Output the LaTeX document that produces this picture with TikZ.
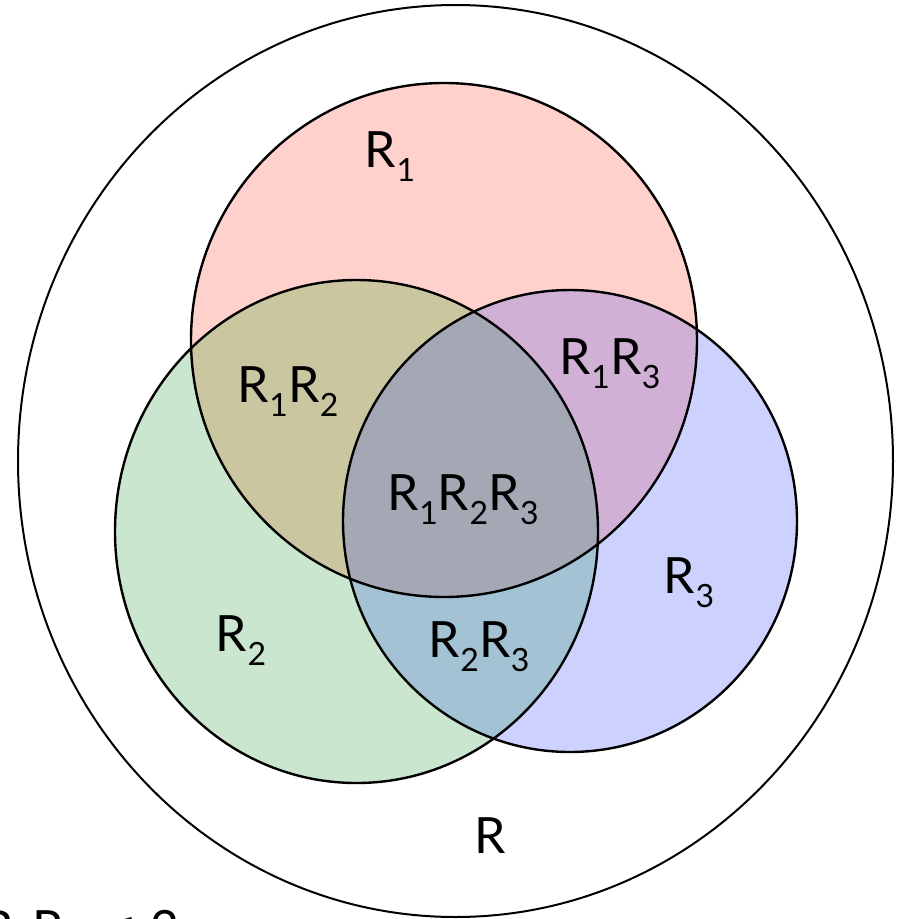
\documentclass[tikz,border=0pt]{standalone}
\usepackage{fontspec}
\setmainfont{Lato}
\newfontfamily\symfont{DejaVu Sans}
\newcommand\Rsb[1]{R\kern0.01em\raisebox{-0.28em}{\fontsize{32}{32}\selectfont #1}}
\definecolor{cA}{RGB}{255,209,204}
\definecolor{cB}{RGB}{203,230,206}
\definecolor{cC}{RGB}{204,210,253}
\definecolor{cAB}{RGB}{202,198,160}
\definecolor{cAC}{RGB}{208,176,213}
\definecolor{cBC}{RGB}{163,194,212}
\definecolor{cABC}{RGB}{164,168,180}
\tikzset{
  lbl/.style={font=\fontsize{50}{50}\selectfont, inner sep=0pt, text=black},
  setline/.style={draw=black, line width=2.4pt},
  outerline/.style={draw=black, line width=2pt}
}
\begin{document}
\begin{tikzpicture}[x=1pt,y=-1pt]
\useasboundingbox (0,0) rectangle (901,919);
\begin{scope}
\clip (0,0) rectangle (901,919);
% outer set
\draw[outerline] (455.5,461) ellipse [x radius=437.5pt, y radius=456pt];
% base fills
\fill[cA] (444,340) ellipse [x radius=253pt, y radius=257pt];
\fill[cB] (356.5,531.5) ellipse [x radius=241.5pt, y radius=251.5pt];
\fill[cC] (570,521) ellipse [x radius=227pt, y radius=231pt];
% pairwise overlaps
\begin{scope}
  \clip (444,340) ellipse [x radius=253pt, y radius=257pt];
  \fill[cAB] (356.5,531.5) ellipse [x radius=241.5pt, y radius=251.5pt];
  \fill[cAC] (570,521) ellipse [x radius=227pt, y radius=231pt];
\end{scope}
\begin{scope}
  \clip (356.5,531.5) ellipse [x radius=241.5pt, y radius=251.5pt];
  \fill[cBC] (570,521) ellipse [x radius=227pt, y radius=231pt];
\end{scope}
\begin{scope}
  \clip (444,340) ellipse [x radius=253pt, y radius=257pt];
  \clip (356.5,531.5) ellipse [x radius=241.5pt, y radius=251.5pt];
  \fill[cABC] (570,521) ellipse [x radius=227pt, y radius=231pt];
\end{scope}
% outlines
\draw[setline] (444,340) ellipse [x radius=253pt, y radius=257pt];
\draw[setline] (356.5,531.5) ellipse [x radius=241.5pt, y radius=251.5pt];
\draw[setline] (570,521) ellipse [x radius=227pt, y radius=231pt];
% labels
\node[lbl] (l1) at (390,157) {\Rsb{1}};
\node[lbl] (l12) at (288,392) {\Rsb{1}\Rsb{2}};
\node[lbl] (l13) at (610,364) {\Rsb{1}\Rsb{3}};
\node[lbl] (l123) at (463,500) {\Rsb{1}\Rsb{2}\Rsb{3}};
\node[lbl] (l3) at (689,583) {\Rsb{3}};
\node[lbl] (l2) at (241,641) {\Rsb{2}};
\node[lbl] (l23) at (479,647) {\Rsb{2}\Rsb{3}};
\node[lbl] (lR) at (490,836) {R};
% cut-off text at the bottom edge (only its top shows, as in the reference)
\node[lbl, anchor=base west] (cut) at (-18,946) {\Rsb{1}\Rsb{2} {\symfont ≤} 2};
\end{scope}
\end{tikzpicture}
\end{document}
